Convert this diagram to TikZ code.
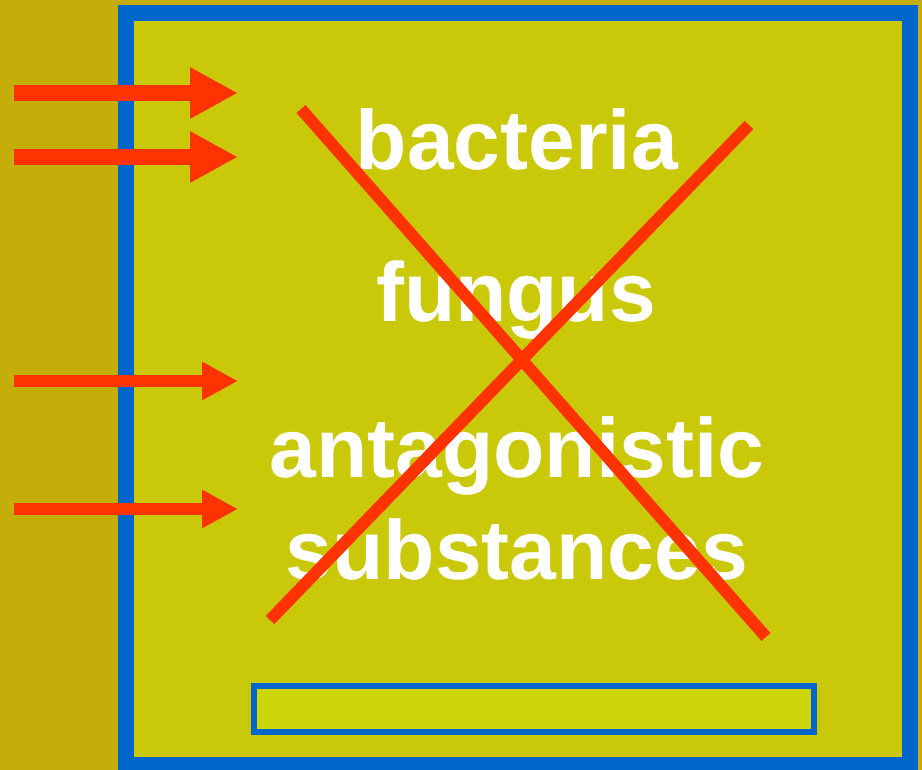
\documentclass[tikz,border=0pt]{standalone}
\usepackage{fontspec}
\setmainfont{Liberation Sans}
\usetikzlibrary{arrows.meta}
\definecolor{bgolive}{HTML}{C5AE09}
\definecolor{boxfill}{HTML}{C9C90A}
\definecolor{barfill}{HTML}{CCD60A}
\definecolor{frameblue}{HTML}{0066CC}
\definecolor{crossred}{HTML}{FF3300}
\tikzset{
  word/.style={text=white, font=\fontsize{84}{90}\selectfont\bfseries, anchor=base, inner sep=0pt},
  bigarrow/.style={draw=crossred, line width=16pt, -{Triangle[length=48pt,width=48pt]}},
  smallarrow/.style={draw=crossred, line width=12pt, -{Triangle[length=36pt,width=36pt]}},
  crossline/.style={draw=crossred, line width=12pt}
}
\begin{document}
\begin{tikzpicture}[x=1pt,y=-1pt]
\fill[bgolive] (0,0) rectangle (922,770);
\useasboundingbox (0,0) rectangle (922,770);
% outer box
\draw[frameblue, line width=16pt, fill=boxfill] (126,13) rectangle (910,765);
% bottom bar
\draw[frameblue, line width=6pt, fill=barfill] (254,686) rectangle (814,732);
% arrows
\coordinate (a1s) at (14,93);  \coordinate (a1e) at (238,93);
\coordinate (a2s) at (14,157); \coordinate (a2e) at (238,157);
\coordinate (a3s) at (14,381); \coordinate (a3e) at (238,381);
\coordinate (a4s) at (14,509); \coordinate (a4e) at (238,509);
\draw[bigarrow] (a1s) -- (a1e);
\draw[bigarrow] (a2s) -- (a2e);
\draw[smallarrow] (a3s) -- (a3e);
\draw[smallarrow] (a4s) -- (a4e);
% words
\node[word] (bact) at (517,170) {bacteria};
\node[word] (fung) at (516,322) {fungus};
\node[word] (anta) at (517,477) {antagonistic};
\node[word] (subs) at (517,579) {substances};
% cross
\coordinate (c1a) at (301,109); \coordinate (c1b) at (766,637);
\coordinate (c2a) at (749,125); \coordinate (c2b) at (270,620);
\draw[crossline] (c1a) -- (c1b);
\draw[crossline] (c2a) -- (c2b);
\end{tikzpicture}
\end{document}
